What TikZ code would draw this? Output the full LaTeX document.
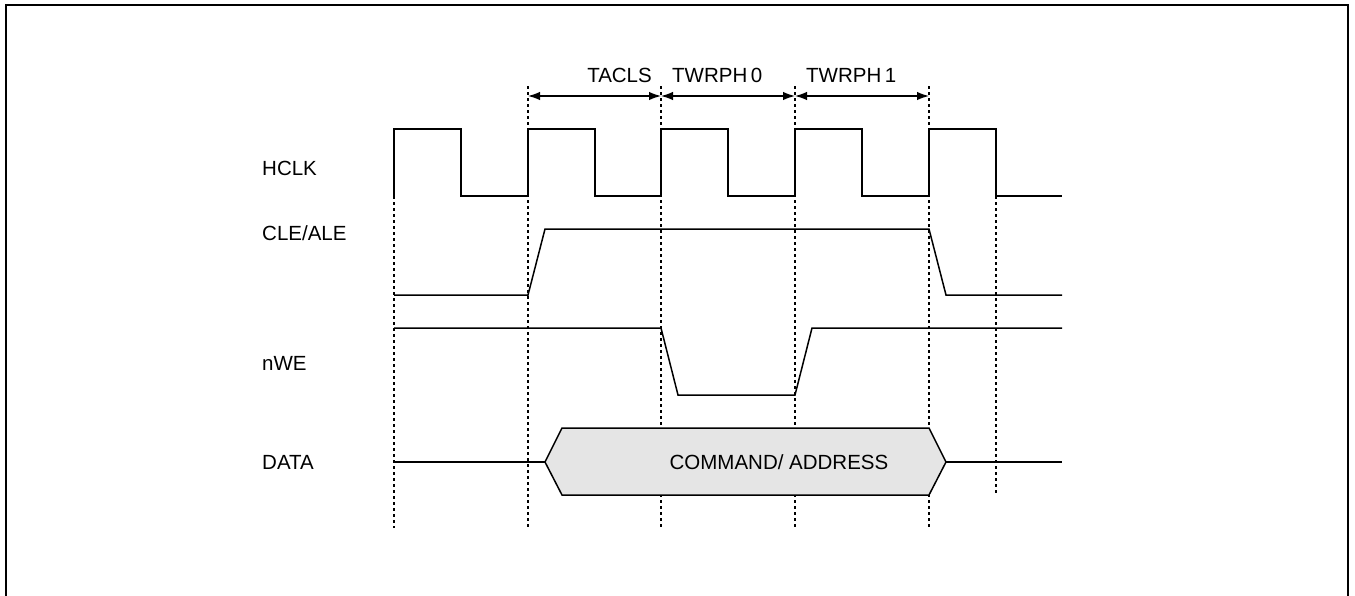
\documentclass[tikz,border=0pt]{standalone}
\usepackage{fontspec}
\setmainfont{Liberation Sans}
\usetikzlibrary{arrows.meta}
\begin{document}
\begin{tikzpicture}[x=1pt,y=-1pt,
  sig/.style={line width=1.5pt,line join=miter},
  guide/.style={line width=1.4pt,dash pattern=on 3pt off 3pt},
  frame/.style={line width=2.2pt},
  txt/.style={inner sep=0pt,font=\fontsize{20.5}{20.5}\selectfont},
  lbl/.style={txt,anchor=west},
  dim/.style={line width=1.3pt,{Latex[length=12pt,width=8.5pt]}-{Latex[length=12pt,width=8.5pt]}}]
\useasboundingbox (0,0) rectangle (1355,595);
% frame (open at the bottom)
\draw[frame] (6,600) -- (6,5) -- (1348,5) -- (1348,600);
% dashed guides
\draw[guide] (394,196) -- (394,528);
\foreach \x in {528,661,795,929} \draw[guide] (\x,86) -- (\x,528);
\draw[guide] (996,196) -- (996,495);
% dimension arrows
\coordinate (a1) at (528,96);
\coordinate (a2) at (661,96);
\coordinate (a3) at (795,96);
\coordinate (a4) at (929,96);
\draw[dim] (a1) -- (a2);
\draw[dim] (a2) -- (a3);
\draw[dim] (a3) -- (a4);
\node[txt,anchor=base east] (tacls) at (652,82) {TACLS};
\node[txt,anchor=base west] (twrph0) at (672,82) {TWRPH\,0};
\node[txt,anchor=base west] (twrph1) at (806,82) {TWRPH\,1};
% signal labels
\node[lbl] (hclk) at (262,168) {HCLK};
\node[lbl] (cle) at (262,233) {CLE/ALE};
\node[lbl] (nwe) at (262,363) {nWE};
\node[lbl] (data) at (262,462) {DATA};
% HCLK
\draw[sig] (394,196) -- (394,129) -- (461,129) -- (461,196) -- (528,196)
  -- (528,129) -- (595,129) -- (595,196) -- (661,196)
  -- (661,129) -- (728,129) -- (728,196) -- (795,196)
  -- (795,129) -- (862,129) -- (862,196) -- (929,196)
  -- (929,129) -- (996,129) -- (996,196) -- (1062,196);
% CLE/ALE
\draw[sig] (394,295) -- (528,295) -- (545,229) -- (929,229) -- (946,295) -- (1062,295);
% nWE
\draw[sig] (394,328) -- (661,328) -- (678,395) -- (795,395) -- (812,328) -- (1062,328);
% DATA
\draw[sig] (394,462) -- (545,462);
\draw[sig] (946,462) -- (1062,462);
\draw[sig,fill=black!10] (545,462) -- (562,428) -- (929,428) -- (946,462) -- (929,495) -- (562,495) -- cycle;
\node[txt] (cmd) at (779,462) {COMMAND/ ADDRESS};
\end{tikzpicture}
\end{document}
